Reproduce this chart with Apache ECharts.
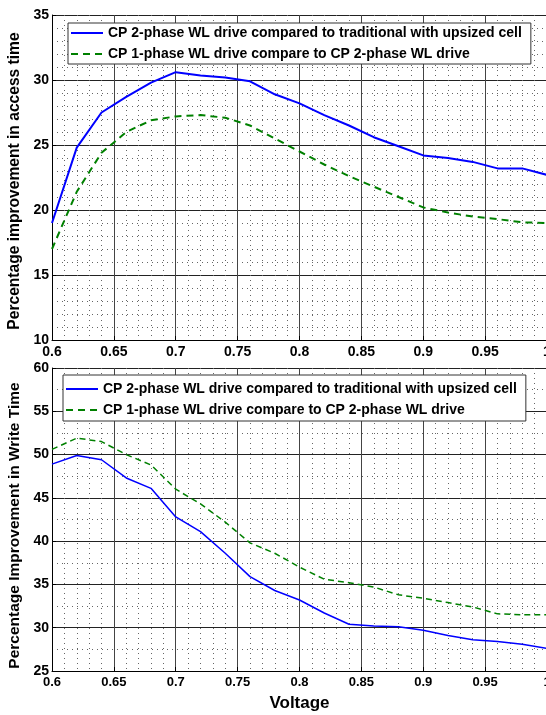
<!DOCTYPE html>
<html>
<head>
<meta charset="utf-8">
<script src="https://cdn.jsdelivr.net/npm/echarts@6/dist/echarts.min.js"></script>
<style>
  html, body { margin: 0; padding: 0; background: #fff; }
  #main { width: 546px; height: 715px; }
</style>
</head>
<body>
<div id="main"></div>
<script>
// voltage steps shared by all four curves
const voltage = [0.60, 0.62, 0.64, 0.66, 0.68, 0.70, 0.72, 0.74, 0.76, 0.78, 0.80,
                 0.82, 0.84, 0.86, 0.88, 0.90, 0.92, 0.94, 0.96, 0.98, 1.00];

// access time improvement (%)
const accessTwoPhase = [19.0, 24.8, 27.5, 28.7, 29.8, 30.6, 30.35, 30.2, 29.9, 28.9, 28.2,
                        27.3, 26.5, 25.6, 24.9, 24.2, 24.0, 23.7, 23.2, 23.2, 22.7];
const accessOnePhase = [17.0, 21.4, 24.4, 26.0, 26.9, 27.2, 27.3, 27.1, 26.5, 25.5, 24.5,
                        23.5, 22.6, 21.8, 21.0, 20.2, 19.8, 19.5, 19.3, 19.05, 19.0];

// write time improvement (%)
const writeTwoPhase = [48.9, 49.9, 49.4, 47.3, 46.1, 42.8, 41.1, 38.6, 35.9, 34.3, 33.2,
                       31.7, 30.4, 30.2, 30.1, 29.7, 29.1, 28.6, 28.4, 28.1, 27.6];
const writeOnePhase = [50.6, 51.9, 51.5, 50.0, 48.8, 46.0, 44.3, 42.2, 39.8, 38.6, 37.0,
                       35.6, 35.2, 34.7, 33.8, 33.4, 32.9, 32.4, 31.6, 31.5, 31.5];

const xTicks = ['0.6', '0.65', '0.7', '0.75', '0.8', '0.85', '0.9', '0.95', '1'];

const nameTwo = 'CP 2-phase WL drive compared to traditional with upsized cell';
const nameOne = 'CP 1-phase WL drive compare to CP 2-phase WL drive';

const FONT = 'Liberation Sans, Arial';
const chart = echarts.init(document.getElementById('main'));

function pairs(ys) {
  return voltage.map((v, i) => [v, ys[i]]);
}

function xAxisCfg(gridIndex, fontSize, withName) {
  const cfg = {
    type: 'value', gridIndex: gridIndex, min: 0.6, max: 1.0, interval: 0.05,
    axisLine: { show: true, lineStyle: { color: '#000', width: 1 } },
    axisTick: { show: true, inside: true, length: 4, lineStyle: { color: '#000' } },
    axisLabel: {
      color: '#000', fontFamily: FONT, fontWeight: 'bold', fontSize: fontSize, margin: 5,
      formatter: v => xTicks[Math.round((v - 0.6) / 0.05)]
    },
    splitLine: { show: true, lineStyle: { color: '#444', width: 1 } },
    minorTick: { show: true, splitNumber: 5, length: 0 },
    minorSplitLine: { show: true, lineStyle: { color: '#666', type: [1, 4], width: 1 } }
  };
  if (withName) {
    cfg.name = 'Voltage';
    cfg.nameLocation = 'middle';
    cfg.nameGap = 24;
    cfg.nameTextStyle = { color: '#000', fontFamily: FONT, fontWeight: 'bold', fontSize: 17 };
  }
  return cfg;
}

function yAxisCfg(gridIndex, min, max, minorSplit, name, nameSize, shift) {
  return {
    type: 'value', gridIndex: gridIndex, min: min, max: max, interval: 5,
    name: name, nameLocation: 'middle', nameGap: 21,
    nameTextStyle: { color: '#000', fontFamily: FONT, fontWeight: 'bold', fontSize: nameSize,
                     padding: [0, shift, 0, 0] },
    axisLine: { show: true, lineStyle: { color: '#000', width: 1 } },
    axisTick: { show: true, inside: true, length: 4, lineStyle: { color: '#000' } },
    axisLabel: { color: '#000', fontFamily: FONT, fontWeight: 'bold', fontSize: 14, margin: 3 },
    splitLine: { show: true, lineStyle: { color: '#222', width: 1 } },
    minorTick: { show: true, splitNumber: minorSplit, length: 0 },
    minorSplitLine: { show: true, lineStyle: { color: '#666', type: [1, 4], width: 1 } }
  };
}

function legendCfg(left, top, pad) {
  return {
    left: left, top: top, orient: 'vertical',
    data: [nameTwo, nameOne],
    backgroundColor: '#fff', borderColor: '#333', borderWidth: 1,
    padding: pad, itemGap: 7, itemWidth: 32, itemHeight: 14,
    itemStyle: { opacity: 0 },
    textStyle: { color: '#000', fontFamily: FONT, fontWeight: 'bold', fontSize: 14 },
    selectedMode: false
  };
}

const option = {
  animation: false,
  backgroundColor: '#fff',
  grid: [
    { left: 52, top: 15, width: 495, height: 325, outerBoundsMode: 'none' },
    { left: 52, top: 368, width: 495, height: 303, outerBoundsMode: 'none' }
  ],
  legend: [legendCfg(68, 23, [3, 9, 3, 2]), legendCfg(63, 375, [7, 9, 4, 2])],
  xAxis: [xAxisCfg(0, 14, false), xAxisCfg(1, 13, true)],
  yAxis: [
    yAxisCfg(0, 10, 35, 5, 'Percentage improvement in access time', 15.6, 7),
    yAxisCfg(1, 25, 60, 2, 'Percentage Improvement in Write Time', 15.5, 12)
  ],
  series: [
    { name: nameTwo, type: 'line', xAxisIndex: 0, yAxisIndex: 0, data: pairs(accessTwoPhase),
      symbol: 'none', lineStyle: { color: '#0000ff', width: 2 }, itemStyle: { color: '#0000ff' }, z: 5 },
    { name: nameOne, type: 'line', xAxisIndex: 0, yAxisIndex: 0, data: pairs(accessOnePhase),
      symbol: 'none', lineStyle: { color: '#008000', width: 2, type: [7, 5] }, itemStyle: { color: '#008000' }, z: 5 },
    { name: nameTwo, type: 'line', xAxisIndex: 1, yAxisIndex: 1, data: pairs(writeTwoPhase),
      symbol: 'none', lineStyle: { color: '#0000ff', width: 1.5 }, itemStyle: { color: '#0000ff' }, z: 5 },
    { name: nameOne, type: 'line', xAxisIndex: 1, yAxisIndex: 1, data: pairs(writeOnePhase),
      symbol: 'none', lineStyle: { color: '#008000', width: 1.5, type: [6, 4] }, itemStyle: { color: '#008000' }, z: 5 }
  ]
};

chart.setOption(option);
window.onresize = () => { chart.resize(); };
</script>
</body>
</html>
